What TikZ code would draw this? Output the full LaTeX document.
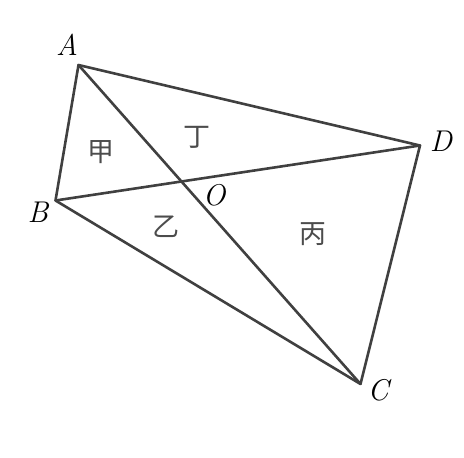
\documentclass[tikz,border=0pt]{standalone}
\usepackage{fontspec}
\newfontfamily\cjk{Noto Sans CJK SC}
\begin{document}
\begin{tikzpicture}[x=1pt,y=-1pt,
  edge/.style={draw=black!75,line width=2.6pt,line join=round,line cap=round},
  lbl/.style={font=\itshape\fontsize{30}{32}\selectfont,inner sep=0pt},
  area/.style={font=\cjk\fontsize{27}{29}\selectfont,text=black!70,inner sep=0pt}]
\useasboundingbox (0,0) rectangle (464,458);
\coordinate (A) at (78.5,65);
\coordinate (B) at (55.5,200.5);
\coordinate (D) at (420,145.5);
\coordinate (C) at (360.5,384);
\draw[edge] (A) -- (B) -- (C) -- (D) -- cycle;
\draw[edge] (A) -- (C);
\draw[edge] (B) -- (D);
\node[lbl] (lA) at (67,45) {A};
\node[lbl] (lB) at (38,212) {B};
\node[lbl] (lC) at (378,390) {C};
\node[lbl] (lD) at (441,141) {D};
\node[lbl] (lO) at (214,195) {O};
\node[area] (jia) at (101,152) {甲};
\node[area] (ding) at (197,137) {丁};
\node[area] (yi) at (166,227) {乙};
\node[area] (bing) at (313,234) {丙};
\end{tikzpicture}
\end{document}
